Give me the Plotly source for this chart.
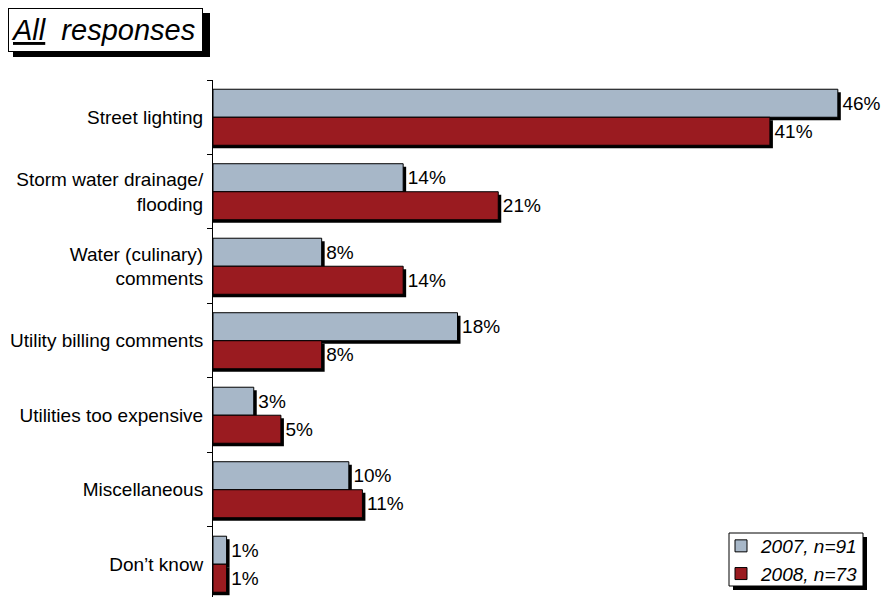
import plotly.graph_objects as go

categories = ["Street lighting", "Storm water drainage/<br>flooding", "Water (culinary)<br>comments",
              "Utility billing comments", "Utilities too expensive", "Miscellaneous", "Don\u2019t know"]
v2007 = [46, 14, 8, 18, 3, 10, 1]
v2008 = [41, 21, 14, 8, 5, 11, 1]
names = ["2007, n=91", "2008, n=73"]
colors = ["#A7B7C8", "#9A1B20"]

FONT = "Liberation Sans, Arial"
W, H = 883, 589            # page body has an 8px margin inside the 891x597 window
L, T, R, B = 205, 72, 26, 0
PW, PH = W - L - R, H - T - B


def px(x):
    return (x - L) / PW


def py(y):
    return (H - y) / PH


BW = 0.376     # bar thickness in category units
SX = 0.22      # shadow shift in x units
SY = 0.04      # shadow shift in category units

fig = go.Figure()
for i, (vals, name, col) in enumerate([(v2007, names[0], colors[0]), (v2008, names[1], colors[1])]):
    off = -BW if i == 0 else 0.0
    fig.add_trace(go.Bar(
        y=categories, x=[v + SX for v in vals], orientation="h",
        width=BW, offset=off + SY, marker=dict(color="black", line=dict(width=0)),
        showlegend=False, hoverinfo="skip"))
    fig.add_trace(go.Bar(
        y=categories, x=vals, orientation="h", name=name,
        width=BW, offset=off, marker=dict(color=col, line=dict(color="black", width=1)),
        text=[f"\u200a{v}%" for v in vals], textposition="outside", constraintext="none",
        textfont=dict(size=19, color="black", family=FONT),
        cliponaxis=False))

fig.update_layout(
    width=W, height=H,
    margin=dict(l=L, r=R, t=T, b=B, autoexpand=False),
    barmode="overlay",
    plot_bgcolor="white", paper_bgcolor="white",
    font=dict(family=FONT, size=19, color="black"),
    xaxis=dict(range=[0, 48], visible=False, showgrid=False, zeroline=False),
    yaxis=dict(type="category", range=[6.44, -0.5], automargin=False, showline=True,
               linecolor="black", linewidth=1, ticks="outside", ticklen=5, tickcolor="black",
               tickson="boundaries", showgrid=False, ticklabelstandoff=5,
               tickfont=dict(size=19, color="black")),
    legend=dict(x=px(713), y=py(519), xanchor="left", yanchor="top",
                bgcolor="rgba(0,0,0,0)", borderwidth=0,
                font=dict(size=19, color="black", family=FONT, style="italic"),
                traceorder="normal", itemwidth=30, tracegroupgap=0),
    shapes=[
        # legend box shadow and box
        dict(type="rect", xref="paper", yref="paper",
             x0=px(725), x1=px(859), y0=py(582), y1=py(529),
             fillcolor="black", line=dict(width=0), layer="above"),
        dict(type="rect", xref="paper", yref="paper",
             x0=px(721), x1=px(855), y0=py(578), y1=py(525),
             fillcolor="white", line=dict(color="black", width=1), layer="above"),
        # title box shadow
        dict(type="rect", xref="paper", yref="paper",
             x0=px(5), x1=px(202), y0=py(49), y1=py(5),
             fillcolor="black", line=dict(width=0), layer="above"),
    ],
)

fig.add_annotation(
    xref="paper", yref="paper", x=px(0), y=py(0),
    xanchor="left", yanchor="top", showarrow=False,
    text="<i><u>All</u>  responses</i>", align="left",
    font=dict(size=29, color="black", family=FONT),
    bgcolor="white", bordercolor="black", borderwidth=1,
    borderpad=2, width=189, height=38)

fig.write_html("out.html")
